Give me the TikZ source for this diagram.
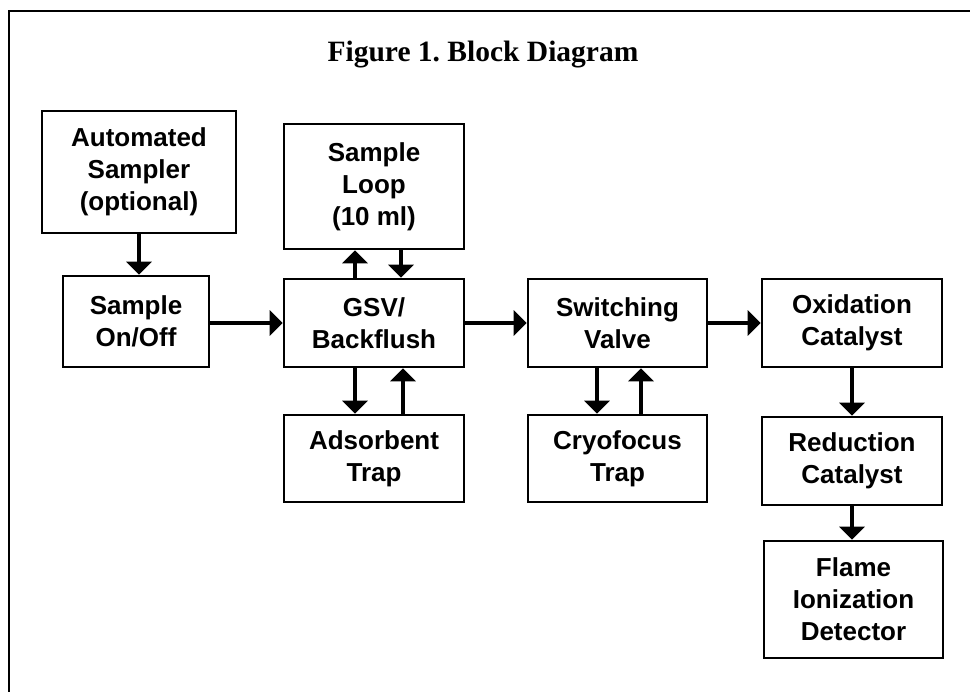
\documentclass[tikz,border=0pt]{standalone}
\usepackage{fontspec}
\setmainfont{Liberation Serif}
\newfontfamily\boxfont{Liberation Sans}
\usetikzlibrary{arrows.meta}
\frenchspacing
\begin{document}
\begin{tikzpicture}[x=1pt,y=-1pt,
  blk/.style={draw, line width=2.7pt, align=center, inner sep=0pt,
    font=\boxfont\bfseries\fontsize{26}{32}\selectfont},
  arr/.style={line width=4.5pt, -{Triangle[width=25pt,length=13pt]}},
  frame/.style={line width=2pt}]
\useasboundingbox (0,0) rectangle (970,692);
\draw[frame] (970,11) -- (9,11) -- (9,692);
\node[anchor=base, font=\bfseries\fontsize{29.5}{36}\selectfont] (title) at (483,62) {Figure 1. Block Diagram};

\node[blk, minimum width=194pt, minimum height=122pt] (auto) at (139,172) {Automated\\Sampler\\(optional)};
\node[blk, minimum width=180pt, minimum height=125pt] (loop) at (374,186.5) {Sample\\Loop\\(10 ml)};
\node[blk, minimum width=146pt, minimum height=91pt] (onoff) at (136,321.5) {Sample\\On/Off};
\node[blk, minimum width=180pt, minimum height=88pt] (gsv) at (374,323) {GSV/\\Backflush};
\node[blk, minimum width=179pt, minimum height=88pt] (sw) at (617.5,323) {Switching\\Valve};
\node[blk, minimum width=180pt, minimum height=87pt] (ads) at (374,458.5) {Adsorbent\\Trap};
\node[blk, minimum width=179pt, minimum height=87pt] (cryo) at (617.5,458.5) {Cryofocus\\Trap};
\node[blk, minimum width=180pt, minimum height=88pt] (ox) at (852,323) {Oxidation\\Catalyst};
\node[blk, minimum width=180pt, minimum height=88pt] (red) at (852,461) {Reduction\\Catalyst};
\node[blk, minimum width=179pt, minimum height=117pt] (fid) at (853.5,599.5) {Flame\\Ionization\\Detector};

\draw[arr] (auto.south) -- (auto.south |- onoff.north);
\draw[arr] (onoff.east |- gsv.west) -- (gsv.west);
\draw[arr] ([xshift=-19pt]gsv.north) -- ([xshift=-19pt]gsv.north |- loop.south);
\draw[arr] ([xshift=27pt]loop.south) -- ([xshift=27pt]loop.south |- gsv.north);
\draw[arr] ([xshift=-19pt]gsv.south) -- ([xshift=-19pt]gsv.south |- ads.north);
\draw[arr] ([xshift=29pt]ads.north) -- ([xshift=29pt]ads.north |- gsv.south);
\draw[arr] (gsv.east) -- (sw.west);
\draw[arr] ([xshift=-20.5pt]sw.south) -- ([xshift=-20.5pt]sw.south |- cryo.north);
\draw[arr] ([xshift=23.5pt]cryo.north) -- ([xshift=23.5pt]cryo.north |- sw.south);
\draw[arr] (sw.east) -- (ox.west);
\draw[arr] (ox.south) -- (ox.south |- red.north);
\draw[arr] (red.south) -- (red.south |- fid.north);
\end{tikzpicture}
\end{document}
